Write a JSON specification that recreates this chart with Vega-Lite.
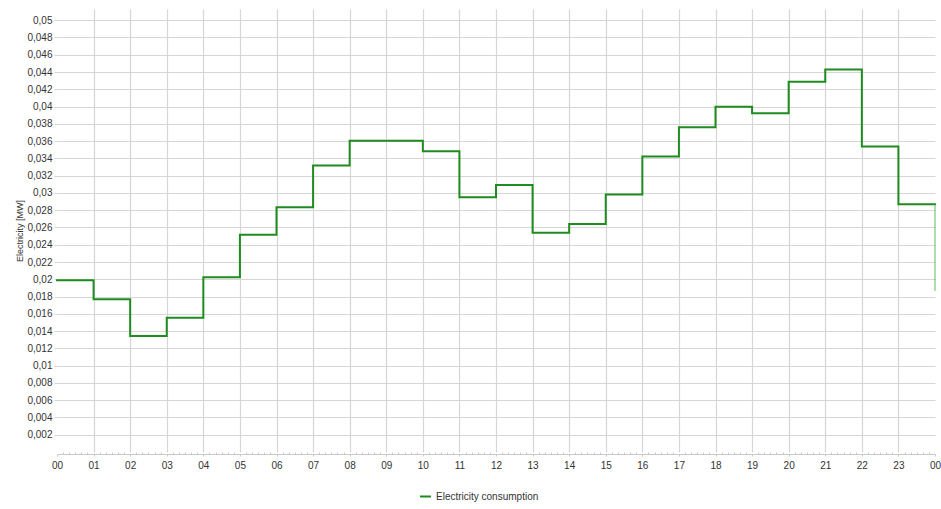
{
  "$schema": "https://vega.github.io/schema/vega-lite/v6.json",
  "width": 878,
  "height": 443,
  "autosize": "none",
  "padding": {"left": 57, "top": 9, "right": 6, "bottom": 57},
  "background": "white",
  "config": {
    "view": {"stroke": null},
    "font": "Liberation Sans",
    "axis": {"labelFont": "Liberation Sans", "titleFont": "Liberation Sans", "labelColor": "#333333", "titleColor": "#333333"}
  },
  "datasets": {
    "consumption": [
      {"hour": 0, "value": 0.0199},
      {"hour": 1, "value": 0.01769},
      {"hour": 2, "value": 0.01342},
      {"hour": 3, "value": 0.01554},
      {"hour": 4, "value": 0.02023},
      {"hour": 5, "value": 0.02517},
      {"hour": 6, "value": 0.02834},
      {"hour": 7, "value": 0.03319},
      {"hour": 8, "value": 0.03604},
      {"hour": 9, "value": 0.03604},
      {"hour": 10, "value": 0.03483},
      {"hour": 11, "value": 0.02949},
      {"hour": 12, "value": 0.03092},
      {"hour": 13, "value": 0.0254},
      {"hour": 14, "value": 0.02641},
      {"hour": 15, "value": 0.02981},
      {"hour": 16, "value": 0.03422},
      {"hour": 17, "value": 0.03762},
      {"hour": 18, "value": 0.03999},
      {"hour": 19, "value": 0.03924},
      {"hour": 20, "value": 0.04288},
      {"hour": 21, "value": 0.0443},
      {"hour": 22, "value": 0.03537},
      {"hour": 23, "value": 0.02868},
      {"hour": 24, "value": 0.02868}
    ],
    "lastDrop": [
      {"hour": 24, "from": 0.02868, "to": 0.01866}
    ]
  },
  "layer": [
    {
      "data": {"name": "consumption"},
      "mark": {"type": "line", "interpolate": "step-after", "strokeWidth": 2, "strokeJoin": "miter", "strokeCap": "square"},
      "encoding": {
        "x": {
          "field": "hour",
          "type": "quantitative",
          "scale": {"domain": [0, 24], "nice": false, "zero": false},
          "axis": {
            "title": null,
            "tickCount": 1000,
            "values": [0,0.16667,0.33333,0.5,0.66667,0.83333,1,1.16667,1.33333,1.5,1.66667,1.83333,2,2.16667,2.33333,2.5,2.66667,2.83333,3,3.16667,3.33333,3.5,3.66667,3.83333,4,4.16667,4.33333,4.5,4.66667,4.83333,5,5.16667,5.33333,5.5,5.66667,5.83333,6,6.16667,6.33333,6.5,6.66667,6.83333,7,7.16667,7.33333,7.5,7.66667,7.83333,8,8.16667,8.33333,8.5,8.66667,8.83333,9,9.16667,9.33333,9.5,9.66667,9.83333,10,10.16667,10.33333,10.5,10.66667,10.83333,11,11.16667,11.33333,11.5,11.66667,11.83333,12,12.16667,12.33333,12.5,12.66667,12.83333,13,13.16667,13.33333,13.5,13.66667,13.83333,14,14.16667,14.33333,14.5,14.66667,14.83333,15,15.16667,15.33333,15.5,15.66667,15.83333,16,16.16667,16.33333,16.5,16.66667,16.83333,17,17.16667,17.33333,17.5,17.66667,17.83333,18,18.16667,18.33333,18.5,18.66667,18.83333,19,19.16667,19.33333,19.5,19.66667,19.83333,20,20.16667,20.33333,20.5,20.66667,20.83333,21,21.16667,21.33333,21.5,21.66667,21.83333,22,22.16667,22.33333,22.5,22.66667,22.83333,23,23.16667,23.33333,23.5,23.66667,23.83333,24],
            "labelExpr": "datum.value % 1 != 0 ? '' : (datum.value == 24 ? '00' : (datum.value < 10 ? '0' + datum.value : '' + datum.value))",
            "labelFontSize": 10,
            "labelPadding": 4,
            "labelFlush": false,
            "labelOverlap": false,
            "domain": true,
            "domainColor": "#c8c8c8",
            "domainWidth": 1,
            "offset": 2,
            "ticks": true,
            "tickColor": "#c8c8c8",
            "tickWidth": 1,
            "tickSize": {"condition": {"test": "datum.value % 1 != 0", "value": -2}, "value": 2},
            "grid": true,
            "gridColor": "#d6d6d6",
            "gridWidth": 1.2,
            "gridOpacity": {"condition": {"test": "datum.value % 1 != 0 || datum.value == 0 || datum.value == 24", "value": 0}, "value": 1}
          }
        },
        "y": {
          "field": "value",
          "type": "quantitative",
          "scale": {"domain": [0, 0.0513], "nice": false},
          "axis": {
            "title": "Electricity [MW]",
            "titleFontSize": 9,
            "titleFontWeight": "normal",
            "titlePadding": 2,
            "tickCount": 1000,
            "values": [0.002,0.004,0.006,0.008,0.01,0.012,0.014,0.016,0.018,0.02,0.022,0.024,0.026,0.028,0.03,0.032,0.034,0.036,0.038,0.04,0.042,0.044,0.046,0.048,0.05],
            "labelExpr": "replace(format(datum.value, '~g'), '.', ',')",
            "labelFontSize": 10,
            "labelPadding": 2,
            "labelOverlap": false,
            "domain": false,
            "ticks": true,
            "tickSize": 3,
            "tickColor": "#d6d6d6",
            "grid": true,
            "gridColor": "#d6d6d6",
            "gridWidth": 1.2
          }
        },
        "color": {
          "datum": "Electricity consumption",
          "type": "nominal",
          "scale": {"domain": ["Electricity consumption"], "range": ["#1f8c1f"]},
          "legend": {
            "title": null,
            "orient": "none",
            "legendX": 362,
            "legendY": 481,
            "symbolType": "stroke",
            "symbolStrokeWidth": 2,
            "symbolSize": 120,
            "labelFontSize": 10,
            "labelFont": "Liberation Sans",
            "labelColor": "#333333",
            "labelOffset": 4
          }
        }
      }
    },
    {
      "data": {"name": "lastDrop"},
      "mark": {"type": "rule", "color": "#5bbf5b", "strokeWidth": 1},
      "encoding": {
        "x": {"field": "hour", "type": "quantitative"},
        "y": {"field": "from", "type": "quantitative"},
        "y2": {"field": "to"}
      }
    }
  ]
}
